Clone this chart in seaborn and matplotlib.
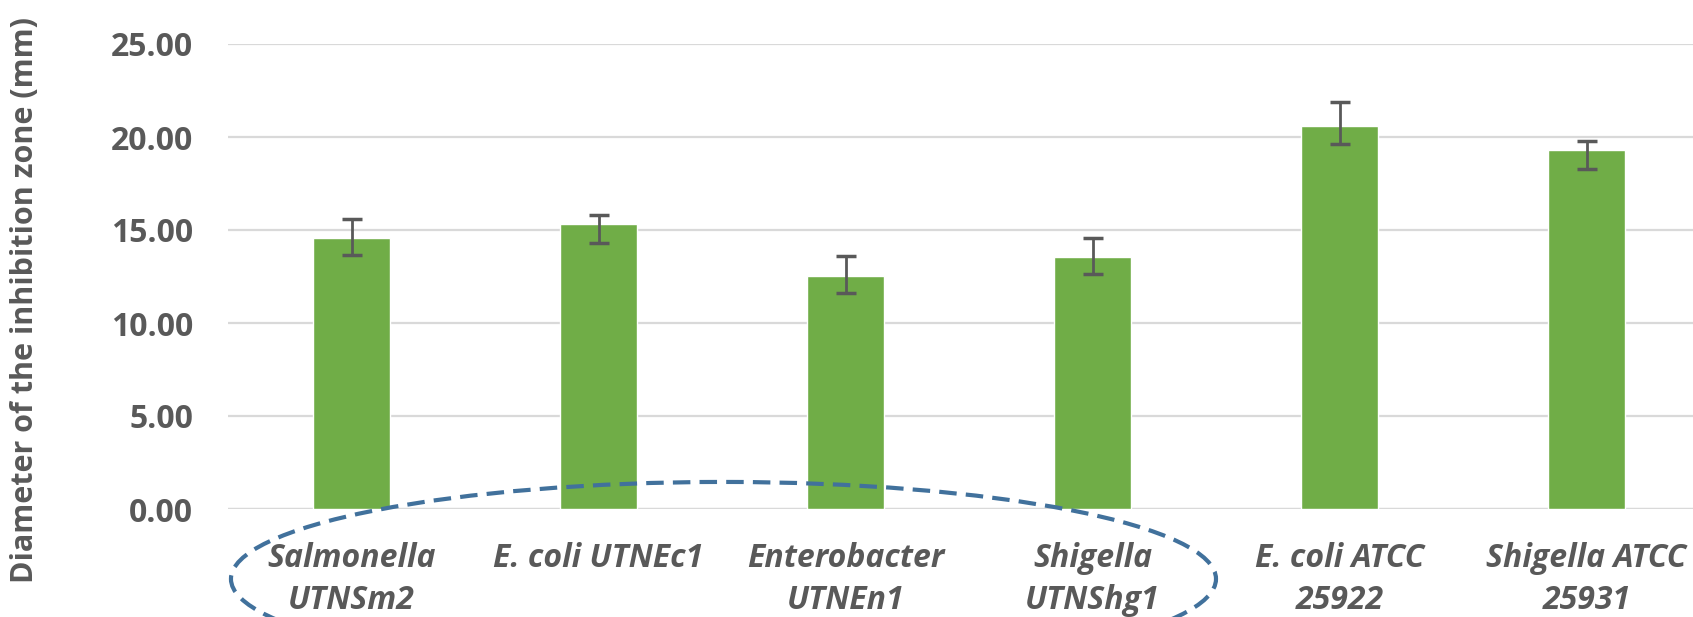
import matplotlib
matplotlib.use("Agg")
import matplotlib.pyplot as plt
from matplotlib.patches import Ellipse
import seaborn as sns
import pandas as pd

# Datos
strains = ["Salmonella\nUTNSm2", "E. coli UTNEc1", "Enterobacter\nUTNEn1",
           "Shigella\nUTNShg1", "E. coli ATCC\n25922", "Shigella ATCC\n25931"]
diameter = [14.57, 15.31, 12.55, 13.57, 20.58, 19.30]
err_low = [0.92, 1.00, 0.93, 0.93, 0.95, 1.00]
err_high = [1.01, 0.48, 1.03, 1.01, 1.29, 0.48]
yticks = [0, 5, 10, 15, 20, 25]

df = pd.DataFrame({"strain": strains, "diameter": diameter})

sns.set_style("white")
plt.rcParams["font.family"] = ["Open Sans", "DejaVu Sans"]

text_gray = "#595959"
bar_green = "#70AD47"
grid_gray = "#D9D9D9"

fig = plt.figure(figsize=(16.93, 6.17), dpi=100)
ax = fig.add_axes([228 / 1693, 108 / 617, 1482 / 1693, 465 / 617])

sns.barplot(data=df, x="strain", y="diameter", color=bar_green, width=0.31,
            saturation=1, ax=ax, zorder=3)
ax.errorbar(range(len(diameter)), diameter, yerr=[err_low, err_high], fmt="none",
            ecolor=text_gray, elinewidth=2, capsize=7, capthick=2.5, zorder=4)

ax.set_xlim(-0.5, 5.5)
ax.set_ylim(0, 25)
ax.set_yticks(yticks)
ax.set_yticklabels([f"{v:.2f}" for v in yticks])
ax.yaxis.grid(True, color=grid_gray, linewidth=1.6, zorder=0)
ax.set_axisbelow(True)
for s in ax.spines.values():
    s.set_visible(False)
ax.axhline(0, color=grid_gray, linewidth=1.6, zorder=2)

ax.tick_params(axis="y", length=0, pad=25, labelsize=23, labelcolor=text_gray)
ax.tick_params(axis="x", length=0, pad=24, labelsize=23, labelcolor=text_gray)
for lab in ax.get_yticklabels():
    lab.set_fontweight("bold")
for lab in ax.get_xticklabels():
    lab.set_fontweight("bold")
    lab.set_fontstyle("italic")
    lab.set_linespacing(1.35)

ax.set_xlabel("")
ax.set_ylabel("Diameter of the inhibition zone (mm)", fontsize=22,
              fontweight="bold", color=text_gray)
ax.yaxis.label.set_va("center")
ax.yaxis.set_label_coords(-0.137, 0.45)

# Elipse discontinua alrededor de las cepas aisladas
ell = Ellipse((1.506, -3.76), 3.988, 10.43, fill=False, edgecolor="#41719C",
              linewidth=3, linestyle=(0, (4.2, 2.2)), clip_on=False, zorder=5)
ax.add_patch(ell)

fig.savefig("out.png", dpi=100)
